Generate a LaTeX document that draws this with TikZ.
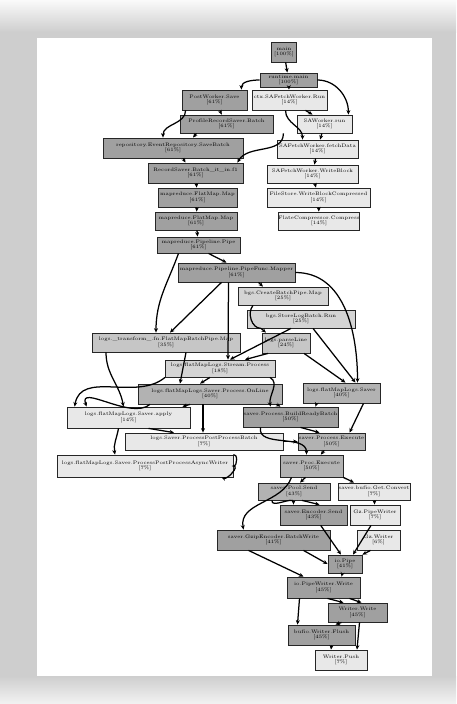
\documentclass[tikz,border=0pt]{standalone}
\usetikzlibrary{arrows.meta}
\definecolor{frame}{RGB}{206,206,206}
\definecolor{cdk}{RGB}{160,160,160}
\definecolor{cdm}{RGB}{178,178,178}
\definecolor{cmd}{RGB}{198,198,198}
\definecolor{clm}{RGB}{212,212,212}
\definecolor{clt}{RGB}{232,232,232}
\newcommand{\pcline}[1]{\\{}[#1\%]}
\tikzset{
  box/.style={draw=black!85, line width=0.8pt, inner sep=0pt, align=center,
    font=\fontsize{5}{5.6}\selectfont},
  dk/.style={box, fill=cdk},
  dmd/.style={box, fill=cdm},
  md/.style={box, fill=cmd},
  lm/.style={box, fill=clm},
  lt/.style={box, fill=clt},
  ed/.style={line width=1.25pt, draw=black, -{Stealth[length=4.5pt,width=4pt]}},
}
\begin{document}
\begin{tikzpicture}[x=1pt,y=-1pt]
\useasboundingbox (0,0) rectangle (456,704);
\fill[frame] (0,0) rectangle (456,704);
\shade[top color=white!90!frame, bottom color=frame] (0,0) rectangle (456,32);
\shade[top color=frame, bottom color=white!75!frame] (0,676) rectangle (456,704);
\fill[white] (37,38) rectangle (432,676);

% nodes
\node[dk, minimum width=25, minimum height=20] (n1) at (284,52) {main\pcline{100}};
\node[dk, minimum width=57, minimum height=14] (n2) at (288.5,80) {runtime.main\pcline{100}};
\node[dk, minimum width=65, minimum height=20] (n3) at (214.5,100) {PostWorker.Save\pcline{61}};
\node[lt, minimum width=75, minimum height=20] (n4) at (289.5,100) {ctx.SAFetchWorker.Run\pcline{14}};
\node[dk, minimum width=93, minimum height=18] (n5) at (226.5,124) {ProfileRecordSaver.Batch\pcline{61}};
\node[lt, minimum width=55, minimum height=18] (n6) at (324.5,124) {SAWorker.run\pcline{14}};
\node[dk, minimum width=140, minimum height=20] (n7) at (173,148) {repository.EventRepository.SaveBatch\pcline{61}};
\node[lt, minimum width=81, minimum height=18] (n8) at (317.5,149) {SAFetchWorker.fetchData\pcline{14}};
\node[dk, minimum width=95, minimum height=20] (n9) at (195.5,173) {RecordSaver.Batch\_it\_in.f1\pcline{61}};
\node[lt, minimum width=91, minimum height=18] (n10) at (312.5,174) {SAFetchWorker.WriteBlock\pcline{14}};
\node[dk, minimum width=79, minimum height=19] (n11) at (197.5,197.5) {mapreduce.FlatMap.Map\pcline{61}};
\node[lt, minimum width=103, minimum height=19] (n12) at (318.5,197.5) {FileStore.WriteBlockCompressed\pcline{14}};
\node[dk, minimum width=82, minimum height=18] (n13) at (196,221) {mapreduce.FlatMap.Map\pcline{61}};
\node[lt, minimum width=78, minimum height=18] (n14) at (319,221) {FlateCompressor.Compress\pcline{14}};
\node[dk, minimum width=83, minimum height=16] (n15) at (198.5,245) {mapreduce.Pipeline.Pipe\pcline{61}};
\node[dk, minimum width=117, minimum height=19] (n16) at (236.5,272.5) {mapreduce.Pipeline.PipeFunc.Mapper\pcline{61}};
\node[lm, minimum width=90, minimum height=18] (n17) at (283,296) {bgs.CreateBatchPipe.Map\pcline{25}};
\node[lm, minimum width=108, minimum height=18] (n18) at (301,319) {bgs.StoreLogBatch.Run\pcline{25}};
\node[md, minimum width=148, minimum height=19] (n19) at (166,342.5) {logs.\_transform\_.fn.FlatMapBatchPipe.Map\pcline{35}};
\node[md, minimum width=48, minimum height=20] (n20) at (286,343) {logs.parseLine\pcline{24}};
\node[lm, minimum width=110, minimum height=17] (n21) at (220,368.5) {logs.flatMapLogs.Stream.Process\pcline{18}};
\node[dmd, minimum width=144, minimum height=20] (n22) at (210,394) {logs.flatMapLogs.Saver.Process.OnLine\pcline{40}};
\node[dmd, minimum width=77, minimum height=20] (n23) at (341.5,393) {logs.flatMapLogs.Saver\pcline{40}};
\node[lt, minimum width=123, minimum height=21] (n24) at (128.5,417.5) {logs.flatMapLogs.Saver.apply\pcline{14}};
\node[dk, minimum width=95, minimum height=20] (n25) at (290.5,417) {saver.Process.BuildReadyBatch\pcline{50}};
\node[lt, minimum width=158, minimum height=17] (n26) at (204,441.5) {logs.Saver.ProcessPostProcessBatch\pcline{7}};
\node[dmd, minimum width=67, minimum height=17] (n27) at (331.5,441.5) {saver.Process.Execute\pcline{50}};
\node[lt, minimum width=176, minimum height=22] (n28) at (145,466) {logs.flatMapLogs.Saver.ProcessPostProcessAsyncWriter\pcline{7}};
\node[dmd, minimum width=63, minimum height=22] (n29) at (311.5,466) {saver.Proc.Execute\pcline{50}};
\node[dmd, minimum width=72, minimum height=17] (n30) at (294,491.5) {saver.Pool.Send\pcline{43}};
\node[lt, minimum width=72, minimum height=17] (n31) at (374,491.5) {saver.bufio.Get.Convert\pcline{7}};
\node[dk, minimum width=67, minimum height=20] (n32) at (313.5,515) {saver.Encoder.Send\pcline{43}};
\node[lt, minimum width=50, minimum height=20] (n33) at (375,515) {Gz.PipeWriter\pcline{7}};
\node[dk, minimum width=113, minimum height=20] (n34) at (273.5,540) {saver.GzipEncoder.BatchWrite\pcline{41}};
\node[lt, minimum width=43, minimum height=20] (n35) at (378.5,540) {Gz.Writer\pcline{6}};
\node[dk, minimum width=34, minimum height=18] (n36) at (345,564) {io.Pipe\pcline{41}};
\node[dk, minimum width=73, minimum height=21] (n37) at (323.5,587.5) {io.PipeWriter.Write\pcline{45}};
\node[dk, minimum width=59, minimum height=19] (n38) at (357.5,612.5) {Writer.Write\pcline{45}};
\node[dk, minimum width=67, minimum height=20] (n39) at (321.5,635) {bufio.Writer.Flush\pcline{45}};
\node[lt, minimum width=52, minimum height=20] (n40) at (341,660) {Writer.Push\pcline{7}};

% edges
\draw[ed] (n1) -- (n2);
\draw[ed] (n2.west) to[out=180,in=90] ([xshift=-6pt]n3.north east);
\draw[ed, dashed] (n2) -- (n4);
\draw[ed] (n2.east) to[out=0,in=90] ([xshift=-4pt]n6.north east);
\draw[ed] (n3) -- (n5);
\draw[ed] ([xshift=4pt]n3.south west) to[out=270,in=90] ([xshift=-10pt]n7.north);
\draw[ed] ([xshift=16pt]n4.south) -- ([xshift=-12pt]n6.north);
\draw[ed] ([xshift=-4pt]n4.south) to[out=270,in=90] ([xshift=-15pt]n8.north);
\draw[ed] (n6) -- (n8);
\draw[ed] ([xshift=-30pt]n5.south) -- ([xshift=20pt]n7.north);
\draw[ed] ([xshift=10pt]n5.south east) to[out=270,in=60] ([xshift=-6pt]n9.north east);
\draw[ed] ([xshift=10pt]n7.south) -- ([xshift=-10pt]n9.north);
\draw[ed] (n9) -- (n11);
\draw[ed] (n11) -- (n13);
\draw[ed] (n13) -- (n15);
\draw[ed] (n8) -- (n10);
\draw[ed] (n10) -- (n12);
\draw[ed] (n12) -- (n14);
\draw[ed] ([xshift=10pt]n15.south) -- ([xshift=-10pt]n16.north);
\draw[ed] ([xshift=-20pt]n15.south) to[out=250,in=90] ([xshift=-10pt]n19.north);
\draw[ed] (n16.east) to[out=0,in=90] ([xshift=16pt]n23.north);
\draw[ed] ([xshift=22pt]n16.south) -- ([xshift=-20pt]n17.north);
\draw[ed] ([xshift=-15pt]n16.south) -- ([xshift=4pt]n19.north);
\draw[ed] ([xshift=-8pt]n16.south) -- ([xshift=8pt]n21.north);
\draw[ed] ([xshift=-30pt]n17.south) to[out=230,in=180] ([xshift=-40pt]n18.south) -- ([xshift=-20pt]n20.north);
\draw[ed] ([xshift=-10pt]n18.south) -- ([xshift=10pt]n21.north);
\draw[ed] ([xshift=12pt]n18.south) -- ([xshift=14pt]n23.north);
\draw[ed] ([xshift=-18pt]n20.south) -- ([xshift=25pt]n21.north);
\draw[ed] ([xshift=18pt]n20.south) -- ([xshift=4pt]n23.north);
\draw[ed] ([xshift=20pt]n19.south) -- ([xshift=-30pt]n22.north);
\draw[ed] ([xshift=-60pt]n19.south) to[out=270,in=100] ([xshift=-5pt]n24.north);
\draw[ed] ([xshift=-10pt]n21.south) -- ([xshift=-10pt]n22.north);
\draw[ed] ([xshift=-55pt]n21.south) to[out=220,in=80] ([xshift=8pt]n24.north west);
\draw[ed] ([xshift=50pt]n21.south) to[out=330,in=100] ([xshift=-20pt]n25.north);
\draw[ed] ([xshift=-20pt]n22.south) -- ([xshift=-8pt]n24.north east);
\draw[ed] ([xshift=-7pt]n22.south) -- ([xshift=-1pt]n26.north);
\draw[ed] ([xshift=-6pt]n22.south east) -- ([xshift=-10pt]n25.north);
\draw[ed] ([xshift=-60pt]n22.south) to[out=220,in=110] ([xshift=20pt]n24.north west);
\draw[ed] ([xshift=-25pt]n23.south) -- ([xshift=25pt]n25.north);
\draw[ed] ([xshift=22pt]n23.south) -- ([xshift=18pt]n27.north);
\draw[ed] ([xshift=10pt]n25.south) -- ([xshift=-12pt]n27.north);
\draw[ed] ([xshift=20pt]n24.south) -- ([xshift=-30pt]n26.north);
\draw[ed] ([xshift=-10pt]n24.south) to[out=260,in=100] ([xshift=-30pt]n28.north);
\draw[ed] ([xshift=-30pt]n25.south) to[out=260,in=90] ([xshift=-5pt]n29.north);
\draw[ed] (n26.east) -- (n27.west);
\draw[ed] (n28.north east) to[out=20,in=0] (n28.east) to[out=0,in=-20] ([xshift=-12pt]n28.south east);
\draw[ed] (n27) -- (n29);
\draw[ed] ([xshift=-20pt]n29.south) to[out=250,in=100] ([xshift=-30pt]n34.north);
\draw[ed] ([xshift=-6pt]n29.south) -- ([xshift=6pt]n30.north);
\draw[ed] (n29.south east) -- ([xshift=-20pt]n31.north);
\draw[ed] ([xshift=-22pt]n30.south) to[out=260,in=90] ([xshift=-20pt]n32.north);
\draw[ed] ([xshift=8pt]n30.south) -- ([xshift=6pt]n32.north);
\draw[ed] (n31) -- (n33);
\draw[ed] (n32) -- ([xshift=-4pt]n36.north);
\draw[ed] ([xshift=-4pt]n33.south) -- ([xshift=8pt]n36.north);
\draw[ed] ([xshift=-8pt]n35.south) -- (n36.north east);
\draw[ed] ([xshift=30pt]n34.south) -- (n36.west);
\draw[ed] ([xshift=-25pt]n34.south) -- ([xshift=-20pt]n37.north);
\draw[ed] (n36) -- ([xshift=18pt]n37.north);
\draw[ed] ([xshift=4pt]n37.south) -- ([xshift=-14pt]n38.north);
\draw[ed] ([xshift=26pt]n37.south) -- ([xshift=4pt]n38.north);
\draw[ed] ([xshift=-24pt]n37.south) -- ([xshift=-24pt]n39.north);
\draw[ed] ([xshift=-16pt]n38.south) -- ([xshift=14pt]n39.north);
\draw[ed] ([xshift=2pt]n38.south) -- ([xshift=16pt]n40.north);
\draw[ed] ([xshift=10pt]n39.south) -- ([xshift=-10pt]n40.north);
\end{tikzpicture}
\end{document}
